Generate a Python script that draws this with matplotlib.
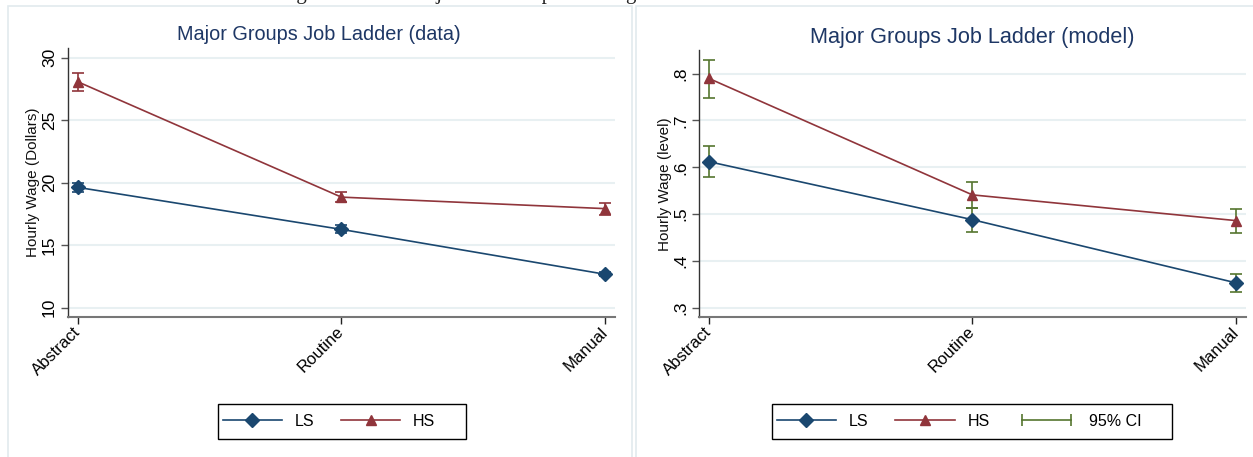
import numpy as np
import matplotlib
matplotlib.use('Agg')
import matplotlib.pyplot as plt
from matplotlib.lines import Line2D
from matplotlib.legend_handler import HandlerLine2D
from matplotlib.patches import Rectangle

plt.rcParams['font.family'] = ['Liberation Sans', 'DejaVu Sans']

# ---------------- data ----------------
categories = ['Abstract', 'Routine', 'Manual']

data_ls = [19.63, 16.27, 12.68]
data_ls_lo = [19.28, 15.95, 12.52]
data_ls_hi = [19.97, 16.60, 12.85]
data_hs = [28.08, 18.85, 17.93]
data_hs_lo = [27.35, 18.43, 17.45]
data_hs_hi = [28.75, 19.23, 18.40]

model_ls = [0.612, 0.488, 0.353]
model_ls_lo = [0.580, 0.462, 0.334]
model_ls_hi = [0.646, 0.513, 0.371]
model_hs = [0.790, 0.541, 0.486]
model_hs_lo = [0.747, 0.513, 0.459]
model_hs_hi = [0.829, 0.569, 0.510]

data_yticks = [10, 15, 20, 25, 30]
data_yticklabels = ['10', '15', '20', '25', '30']
model_yticks = [0.3, 0.4, 0.5, 0.6, 0.7, 0.8]
model_yticklabels = ['.3', '.4', '.5', '.6', '.7', '.8']

# ---------------- style ----------------
NAVY = '#1a476f'
MAROON = '#90353b'
GREEN = '#55752f'
GRID = '#e8f0f2'
TITLE = '#1e3765'
W, H = 1253, 457

fig = plt.figure(figsize=(W / 100, H / 100), dpi=100)
fig.patch.set_facecolor('white')

def fx(p):
    return p / W

def fy(p):
    return 1 - p / H

# panel borders
for (l, r) in [(8, 632), (636, 1262)]:
    fig.patches.append(Rectangle((fx(l), fy(470)), fx(r - l), (470 - 6) / H,
                                 transform=fig.transFigure, fill=False,
                                 edgecolor='#e2eaee', lw=1.2, zorder=0))

# cut-off caption at the top
fig.text(fx(279), fy(-1.5), 'Figure 12: The Major Job Groups Ranking',
         family=['Liberation Serif', 'DejaVu Serif'], fontsize=15,
         ha='left', va='baseline', color='#222222')

def px_axes(l, t, r, b):
    return fig.add_axes([fx(l), fy(b), fx(r - l), (b - t) / H])

ax1 = px_axes(68, 48, 615, 317)
ax2 = px_axes(699, 50, 1246, 317)

x = np.arange(len(categories))

def yerr(v, lo, hi):
    v, lo, hi = map(np.asarray, (v, lo, hi))
    return [v - lo, hi - v]

# left panel
ax1.errorbar(x, data_ls, yerr=yerr(data_ls, data_ls_lo, data_ls_hi), color=NAVY,
             marker='D', ms=7, lw=1.2, capsize=4.5, capthick=1.2, elinewidth=1.2, zorder=3)
ax1.errorbar(x, data_hs, yerr=yerr(data_hs, data_hs_lo, data_hs_hi), color=MAROON,
             marker='^', ms=7.5, lw=1.2, capsize=4.5, capthick=1.2, elinewidth=1.2, zorder=3)
ax1.set_ylim(9.26, 30.78)
ax1.set_yticks(data_yticks, data_yticklabels)

# right panel
ax2.plot(x, model_ls, color=NAVY, marker='D', ms=7, lw=1.2, zorder=4)
ax2.plot(x, model_hs, color=MAROON, marker='^', ms=7.5, lw=1.2, zorder=4)
ax2.errorbar(x, model_ls, yerr=yerr(model_ls, model_ls_lo, model_ls_hi), fmt='none',
             ecolor=GREEN, capsize=4.5, capthick=1.2, elinewidth=1.2, zorder=3)
ax2.errorbar(x, model_hs, yerr=yerr(model_hs, model_hs_lo, model_hs_hi), fmt='none',
             ecolor=GREEN, capsize=4.5, capthick=1.2, elinewidth=1.2, zorder=3)
ax2.set_ylim(0.280, 0.8506)
ax2.set_yticks(model_yticks, model_yticklabels)

for ax in (ax1, ax2):
    ax.set_xlim(-0.037, 2.038)
    ax.set_xticks(x, categories)
    for lab in ax.get_xticklabels():
        lab.set_rotation(45)
        lab.set_ha('right')
        lab.set_va('center')
        lab.set_rotation_mode('anchor')
    for lab in ax.get_yticklabels():
        lab.set_rotation(90)
        lab.set_va('center')
    ax.tick_params(axis='x', length=5, width=1, color='#222222', labelsize=12, pad=4)
    ax.tick_params(axis='y', length=5, width=1, color='#555555', labelsize=12.5, pad=3)
    ax.spines['top'].set_visible(False)
    ax.spines['right'].set_visible(False)
    ax.spines['left'].set_color('#333333')
    ax.spines['left'].set_linewidth(1.0)
    ax.spines['bottom'].set_color('#777777')
    ax.spines['bottom'].set_linewidth(1.5)
    ax.yaxis.grid(True, color=GRID, lw=1.5)
    ax.set_axisbelow(True)

# titles
fig.text(fx(319), fy(35), 'Major Groups Job Ladder (data)', ha='center', va='center',
         fontsize=14.3, color=TITLE)
fig.text(fx(972), fy(37), 'Major Groups Job Ladder (model)', ha='center', va='center',
         fontsize=15.6, color=TITLE)

# y labels
fig.text(fx(33), fy(182), 'Hourly Wage (Dollars)', rotation=90, ha='center', va='center',
         fontsize=11, color='#111111')
fig.text(fx(665), fy(184), 'Hourly Wage (level)', rotation=90, ha='center', va='center',
         fontsize=11, color='#111111')

# legends
h_ls = Line2D([], [], color=NAVY, marker='D', ms=7, lw=1.2)
h_hs = Line2D([], [], color=MAROON, marker='^', ms=7.5, lw=1.2)
h_ci = Line2D([], [], color=GREEN, marker='|', ms=8, mew=1.2, lw=1.2)

leg_kw = dict(loc='center', frameon=False, fontsize=11.5, handlelength=3.7,
              handletextpad=0.8, columnspacing=1.7, borderpad=0)
leg1 = fig.legend([h_ls, h_hs], ['LS', 'HS'], ncol=2,
                  bbox_to_anchor=(fx(329), fy(421.5)), **leg_kw)
leg2 = fig.legend([h_ls, h_hs, h_ci], ['LS', 'HS', '95% CI'], ncol=3,
                  bbox_to_anchor=(fx(959), fy(421.5)),
                  handler_map={h_ci: HandlerLine2D(numpoints=2)}, **leg_kw)

for (l, r) in [(218, 466), (772, 1171.5)]:
    fig.patches.append(Rectangle((fx(l), fy(439)), fx(r - l), (439 - 404) / H,
                                 transform=fig.transFigure, fill=False,
                                 edgecolor='black', lw=1.0, zorder=5))

fig.savefig('out.png', dpi=100, facecolor='white')
